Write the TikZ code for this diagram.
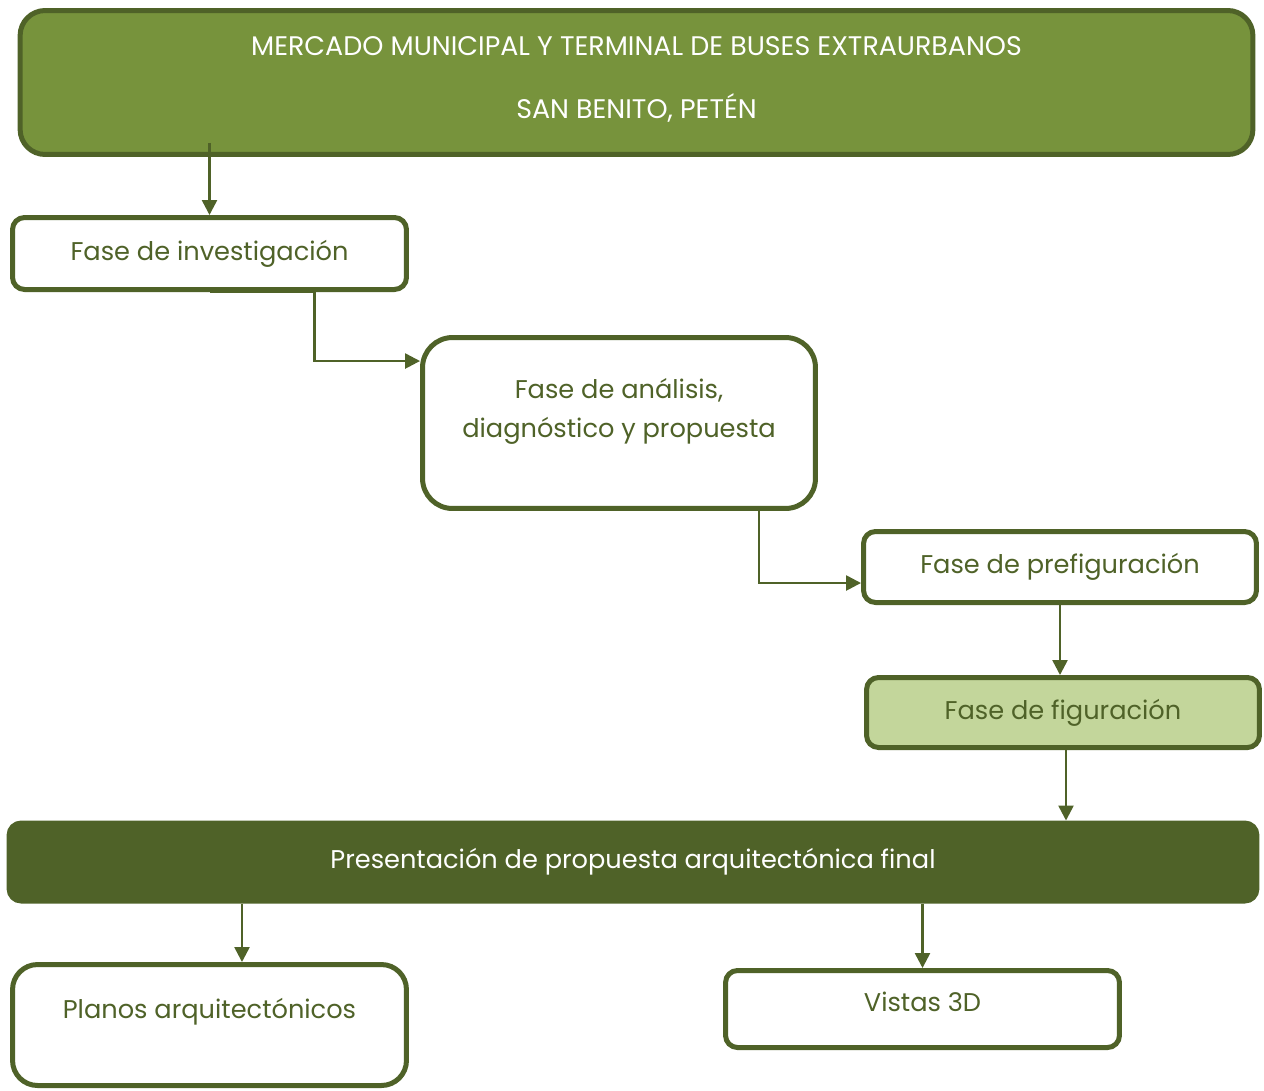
\documentclass[tikz,border=0pt]{standalone}
\usepackage{fontspec}
\setmainfont{Poppins}
\usetikzlibrary{arrows.meta}
\definecolor{oliva}{HTML}{4F6228}
\definecolor{verde}{HTML}{77933C}
\definecolor{claro}{HTML}{C3D69B}
\begin{document}
\begin{tikzpicture}[x=0.02cm,y=-0.02cm,
	box/.style={draw=oliva,line width=0.1cm,rounded corners=0.24cm,fill=white,text=oliva,align=center,font=\fontsize{14.6}{21}\selectfont,inner sep=0pt},
	arr/.style={draw=oliva,line width=0.05cm,-{Triangle[length=0.3cm,width=0.3cm]}}]
	\useasboundingbox (0,0) rectangle (1264,1090);
	\node[box,fill=verde,text=white,rounded corners=0.5cm,minimum width=24.66cm,minimum height=2.88cm,font=\fontsize{15.3}{36}\selectfont,text depth=0.2cm] (titulo) at (636.5,82.5) {MERCADO MUNICIPAL Y TERMINAL DE BUSES EXTRAURBANOS\\SAN BENITO, PETÉN};
	\node[box,minimum width=7.88cm,minimum height=1.44cm] (inv) at (209.5,253.5) {Fase de investigación};
	\node[box,rounded corners=0.6cm,minimum width=7.86cm,minimum height=3.42cm,text depth=0.6cm,font=\fontsize{14.6}{22}\selectfont] (ana) at (619,423) {Fase de análisis,\\diagnóstico y propuesta};
	\node[box,minimum width=7.86cm,minimum height=1.42cm] (pre) at (1060,567) {Fase de prefiguración};
	\node[box,fill=claro,minimum width=7.86cm,minimum height=1.4cm] (fig) at (1063,712.5) {Fase de figuración};
	\node[box,fill=oliva,text=white,minimum width=24.96cm,minimum height=1.56cm] (pres) at (633,862) {Presentación de propuesta arquitectónica final};
	\node[box,rounded corners=0.5cm,minimum width=7.88cm,minimum height=2.42cm,text depth=0.66cm] (planos) at (209.5,1025) {Planos arquitectónicos};
	\node[box,minimum width=7.88cm,minimum height=1.54cm,text depth=0.3cm] (vistas) at (922.5,1009) {Vistas 3D};
	\draw[arr] ([yshift=0.28cm]titulo.south -| inv.north) -- (inv.north);
	\draw[arr] (inv.south) -- ++(105,0) |- ([yshift=1.24cm]ana.west);
	\draw[arr] ([xshift=2.8cm]ana.south) |- ([yshift=-0.32cm]pre.west);
	\draw[arr] (pre.south) -- (pre.south |- fig.north);
	\draw[arr] ([xshift=0.06cm]fig.south) -- ([xshift=0.06cm]fig.south |- pres.north);
	\draw[arr] ([xshift=0.65cm]planos.north |- pres.south) -- ([xshift=0.65cm]planos.north);
	\draw[arr] (vistas.north |- pres.south) -- (vistas.north);
\end{tikzpicture}
\end{document}
